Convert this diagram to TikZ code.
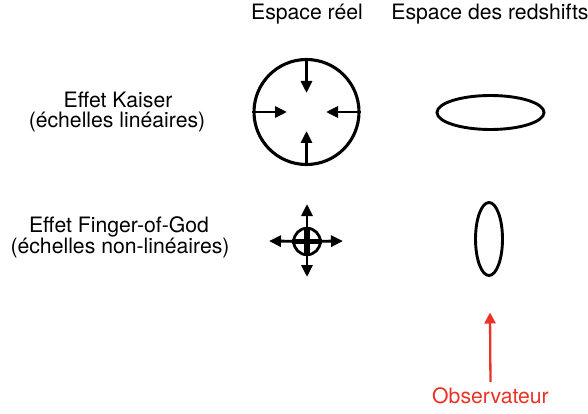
\documentclass[tikz,border=0pt]{standalone}
\usepackage{fontspec}
\setmainfont{TeX Gyre Heros}
\usetikzlibrary{arrows.meta,shapes.geometric,calc}
\definecolor{obsred}{RGB}{235,50,36}
\begin{document}
\begin{tikzpicture}[x=1pt,y=-1pt,
  lbl/.style={font=\fontsize{21.2}{25}\selectfont, inner sep=0pt, anchor=base},
  arr/.style={line width=2.9pt, -{Triangle[length=12pt,width=11pt]}},
  thinring/.style={draw, circle, line width=3.1pt, inner sep=0pt},
  ell/.style={draw, ellipse, line width=2.9pt, inner sep=0pt},
  redarr/.style={draw=obsred, line width=2.3pt, -{Triangle[length=11pt,width=11pt]}, obsred}
]
\useasboundingbox (0,0) rectangle (588,414);
% titles
\node[lbl] (treel) at (307,20) {Espace réel};
\node[lbl] (tred) at (490,20) {Espace des redshifts};
% row labels
\node[lbl] (k1) at (118,107.5) {Effet Kaiser};
\node[lbl] (k2) at (117,128) {(échelles linéaires)};
\node[lbl] (f1) at (119,232.5) {Effet Finger-of-God};
\node[lbl] (f2) at (120,253) {(échelles non-linéaires)};
% Kaiser real space
\node[thinring, minimum size=105pt] (c1) at (306.5,112) {};
\coordinate (tN) at (306.5,93);
\coordinate (tS) at (306.5,131);
\coordinate (tW) at (287,112);
\coordinate (tE) at (326,112);
\draw[arr] (c1.north) -- (tN);
\draw[arr] (c1.south) -- (tS);
\draw[arr] (c1.west) -- (tW);
\draw[arr] (c1.east) -- (tE);
% Kaiser redshift space
\node[ell, minimum width=107pt, minimum height=34pt] (e1) at (490.5,112.5) {};
% Finger of God real space
\node[thinring, line width=2.8pt, minimum size=26.5pt] (c2) at (307,241.5) {};
\coordinate (fN) at (307,204);
\coordinate (fS) at (307,277);
\coordinate (fW) at (269,241);
\coordinate (fE) at (343,241);
\draw[line width=5.5pt] (c2.west) -- (c2.east);
\draw[line width=5.5pt] (c2.north) -- (c2.south);
\draw[arr] (c2.center) -- (fN);
\draw[arr] (c2.center) -- (fS);
\draw[arr] (c2.center) -- (fW);
\draw[arr] (c2.center) -- (fE);
% Finger of God redshift space
\node[ell, minimum width=27pt, minimum height=73pt] (e2) at (489,239) {};
% observer
\node[lbl, text=obsred] (obs) at (490.5,403) {Observateur};
\coordinate (otip) at (490,312.5);
\draw[redarr, shorten <=5pt] (obs.north) -- (otip);
\end{tikzpicture}
\end{document}
